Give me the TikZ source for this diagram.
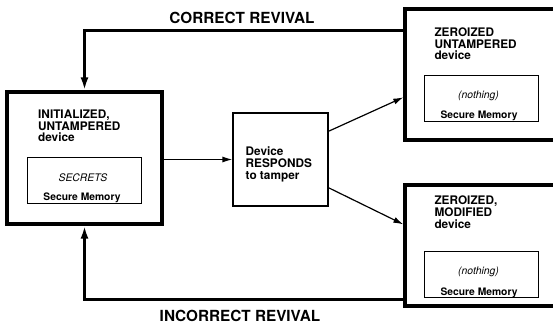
\documentclass[tikz,border=0pt]{standalone}
\usepackage{fontspec}
\setmainfont{TeX Gyre Heros}
\usepackage{tikz}
\usetikzlibrary{calc}
\usetikzlibrary{arrows.meta}

\begin{document}
\begin{tikzpicture}[x=1pt,y=-1pt,
        devbox/.style={draw,line width=3.3pt,inner sep=0},
        membox/.style={draw,line width=1pt,inner sep=0,minimum width=114pt,minimum height=46pt},
        title/.style={anchor=north west,inner sep=0,align=left,font=\fontsize{11.8}{11.8}\selectfont\bfseries},
        memtxt/.style={anchor=base,inner sep=0,font=\fontsize{10.3}{12}\selectfont\bfseries},
        contents/.style={anchor=base,inner sep=0,font=\fontsize{10.4}{12}\selectfont\itshape},
        revtxt/.style={anchor=base,inner sep=0,font=\fontsize{15.3}{18}\selectfont\bfseries},
        flow/.style={-{Latex[length=10pt,width=6pt]},line width=1.2pt},
        revival/.style={-{Latex[length=13pt,width=8pt]},line width=3pt}]
        \useasboundingbox (0,0) rectangle (553,324);
        \clip (0,0) rectangle (553,324);

        % the device before tamper
        \node[devbox,minimum width=155pt,minimum height=132pt] (init) at (84.5,158) {};
        \node[title] (initname) at (38,109.5) {INITIALIZED,\\UNTAMPERED\\device};
        \node[membox] (secmem) at (84,180.5) {};
        \node[contents] (secrets) at (83,181.5) {SECRETS};
        \node[memtxt] (secmemname) at (82,200.5) {Secure Memory};

        % the response
        \node[draw,line width=1.2pt,inner sep=0,minimum width=95pt,minimum height=93pt] (resp) at (280.5,159.5) {};
        \node[title] (respname) at (245.5,146.5) {Device\\RESPONDS\\to tamper};

        % zeroized, untampered
        \node[devbox,minimum width=165pt,minimum height=131pt] (zu) at (487.5,74.5) {};
        \node[title] (zuname) at (434.3,27.3) {ZEROIZED\\UNTAMPERED\\device};
        \node[membox] (zumem) at (481,98) {};
        \node[contents] (zunone) at (478.5,98.5) {(nothing)};
        \node[memtxt] (zumemname) at (479,118.5) {Secure Memory};

        % zeroized, modified
        \node[devbox,minimum width=165pt,minimum height=121pt] (zm) at (487.5,245.5) {};
        \node[title] (zmname) at (434.3,196) {ZEROIZED,\\MODIFIED\\device};
        \node[membox] (zmmem) at (481,274.5) {};
        \node[contents] (zmnone) at (478.5,274.5) {(nothing)};
        \node[memtxt] (zmmemname) at (479,295) {Secure Memory};

        \draw[flow] (init.east |- resp) -- (resp.west);
        \draw[flow] ($(resp.north east)!.2!(resp.south east)$) -- ($(zu.north west)!.67!(zu.south west)$);
        \draw[flow] ($(resp.north east)!.8!(resp.south east)$) -- ($(zm.north west)!.33!(zm.south west)$);

        % the two ways back
        \coordinate (cr) at (84,30);
        \coordinate (ir) at (84,299);
        \draw[revival] (zu.west |- cr) -| (init.north);
        \draw[revival] (zm.west |- ir) -| (init.south);
        \node[revtxt] (crlabel) at (242,23) {CORRECT REVIVAL};
        \node[revtxt] (irlabel) at (240,321) {INCORRECT REVIVAL};
\end{tikzpicture}
\end{document}
